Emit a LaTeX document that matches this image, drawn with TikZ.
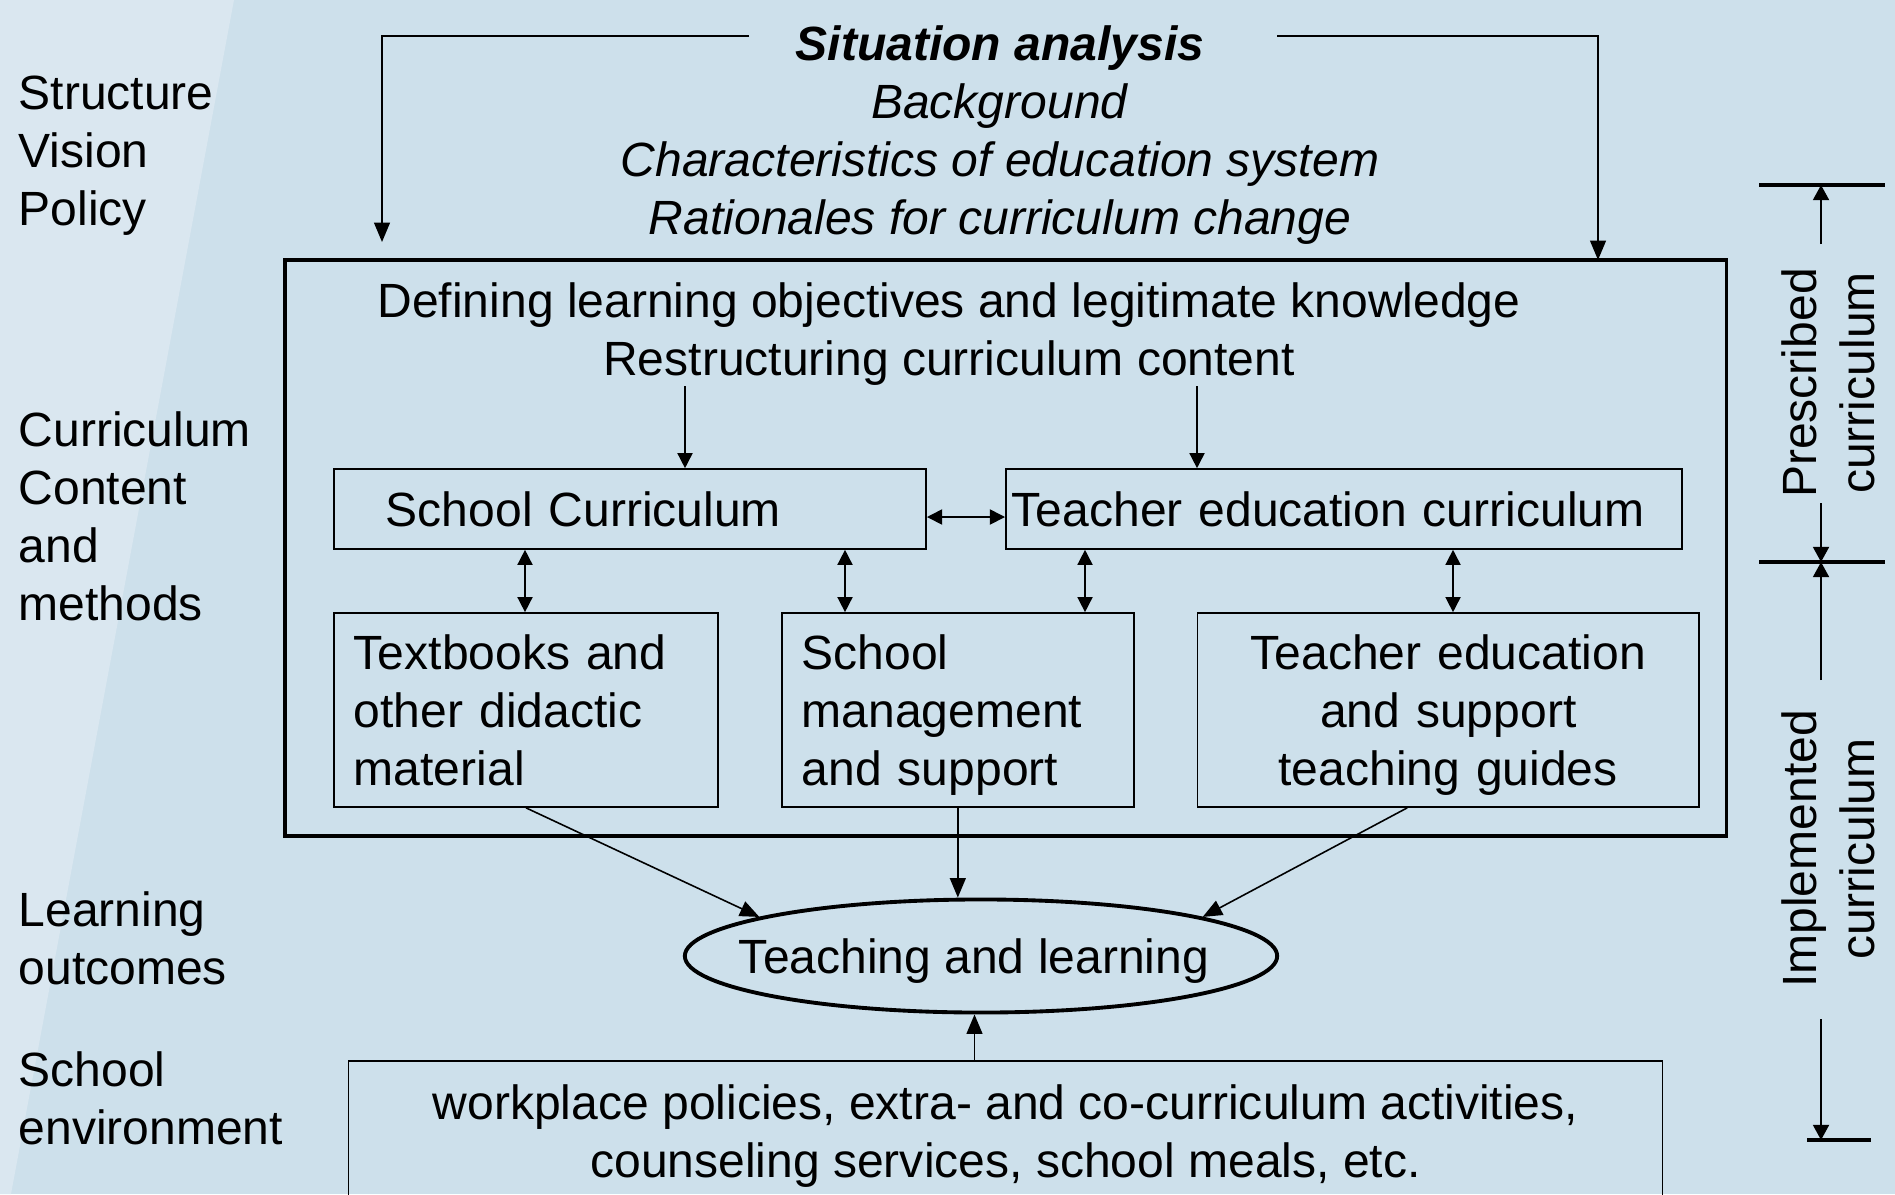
\documentclass[tikz,border=0pt]{standalone}
\usepackage{fontspec}
\setmainfont{Liberation Sans}
\usetikzlibrary{arrows.meta,positioning,shapes.geometric}
\definecolor{slideblue}{RGB}{205,224,235}
\definecolor{slidelight}{RGB}{218,231,240}
\newcommand{\slidefont}{\fontsize{13.66}{16.5}\selectfont}

\begin{document}
\begin{tikzpicture}[
      x=0.01cm, y=-0.01cm,
      every node/.style={font=\slidefont, inner sep=0pt},
      mybox/.style={draw, line width=0.45pt, minimum height=0.8cm},
      tallbox/.style={draw, line width=0.45pt, minimum height=1.94cm,
         execute at begin node={\rule{0pt}{0.45cm}},
         execute at end node={\rule[-0.1cm]{0pt}{0.1cm}}},
      bigbox/.style={draw, line width=1.1pt},
      myarrow/.style={-{Triangle[length=4.3pt,width=4.3pt]}, line width=0.45pt},
      bigarrow/.style={-{Triangle[length=5.5pt,width=4.5pt]}, line width=0.45pt},
      dblarrow/.style={{Triangle[length=4.3pt,width=4.3pt]}-{Triangle[length=4.3pt,width=4.3pt]}, line width=0.45pt},
      bar/.style={line width=1.4pt},
      bararrow/.style={-{Triangle[length=4.3pt,width=4.5pt]}, line width=0.7pt},
      sidelabel/.style={anchor=west, align=left},
      node distance=0.62cm
      ]
      \useasboundingbox (0,0) rectangle (1895,1194);
      \clip (0,0) rectangle (1895,1194);
      % slide background
      \fill[slideblue] (0,0) rectangle (1895,1194);
      \fill[slidelight] (0,0) -- (234,0) -- (11,1194) -- (0,1194) -- cycle;

      % levels on the left
      \node[sidelabel] (svp) at (18,156) {Structure\\Vision\\Policy};
      \node[sidelabel] (ccm) at (18,516) {Curriculum\\Content\\and\\methods};
      \node[sidelabel] (lo) at (18,938) {Learning\\outcomes};
      \node[sidelabel] (se) at (18,1098) {School\\environment};

      \node[align=center] (situation) at (1000,135) {\textbf{\textit{Situation analysis}}\\\textit{Background}\\\textit{Characteristics of education system}\\\textit{Rationales for curriculum change}};

      \node[bigbox, minimum width=14.41cm, minimum height=5.76cm] (content) at (1005.5,548) {};
      \node[align=center] (defining) at (949,334) {Defining learning objectives and legitimate knowledge\\Restructuring curriculum content};

      \node[mybox, text width=4.88cm, inner xsep=0.52cm, align=left] (schoolcur) at (630,509) {School Curriculum};
      \node[mybox, text width=6.64cm, inner xsep=0.06cm, align=left, right=0.78cm of schoolcur] (teachcur) {Teacher education curriculum};

      \node[tallbox, text width=3.44cm, inner xsep=0.2cm, align=left] (textbooks) at (526,710) {Textbooks and\\other didactic\\material};
      \node[tallbox, text width=3.12cm, inner xsep=0.2cm, align=left, right=of textbooks] (schoolman) {School\\management\\and support};
      \node[tallbox, text width=4.81cm, inner xsep=0.1cm, align=center, right=of schoolman] (teachsup) {Teacher education\\and support\\teaching guides};

      \node[ellipse, draw, line width=1.1pt, minimum width=5.92cm, minimum height=1.13cm,
            label={[xshift=-0.07cm, yshift=-0.05cm]center:Teaching and learning}] (teach) at (981,956) {};

      \node[mybox, minimum width=13.13cm, minimum height=1.5cm, align=center] (env) at (1005.5,1136) {workplace policies, extra- and co-curriculum activities,\\counseling services, school meals, etc.};

      % bracket from the situation analysis
      \coordinate (sitleft) at (749,36);
      \coordinate (sitright) at (1277,36);
      \coordinate (leftdrop) at (382,242);
      \coordinate (rightdrop) at (1598,260);
      \draw[bigarrow] (sitleft) -| (leftdrop);
      \draw[bigarrow] (sitright) -| (rightdrop);

      \coordinate (d1) at (685,0);
      \coordinate (d2) at (1197,0);
      \draw[myarrow] (defining.south -| d1) -- (schoolcur.north -| d1);
      \draw[myarrow] (defining.south -| d2) -- (teachcur.north -| d2);

      \draw[dblarrow] ([yshift=-0.08cm]schoolcur.east) -- ([yshift=-0.08cm]teachcur.west);
      \foreach \x/\up/\down in {% x position/upper box/lower box
        525/schoolcur/textbooks,
        845/schoolcur/schoolman,
        1085/teachcur/schoolman,
        1453/teachcur/teachsup}
         \draw[dblarrow] (\up.south -| \x,0) -- (\down.north -| \x,0);

      \draw[bigarrow] (textbooks.south) -- (teach.170);
      \draw[bigarrow] (schoolman.south) -- (schoolman.south |- teach.north);
      \draw[bigarrow] ([xshift=-0.41cm]teachsup.south) -- (teach.10);
      \draw[bigarrow] ([xshift=-0.31cm]env.north) -- ([xshift=-0.31cm]env.north |- teach.south);

      % prescribed / implemented scale on the right
      \node[rotate=90, align=center] (presc) at (1828,383) {Prescribed\\curriculum};
      \node[rotate=90, align=center] (impl) at (1828,849) {Implemented\\curriculum};
      \coordinate (presctop) at (1821,185);
      \coordinate (prescmid) at (1821,562);
      \coordinate (implbot) at (1821,1140);
      \coordinate (p1) at (1821,244);
      \coordinate (p2) at (1821,503);
      \coordinate (p3) at (1821,680);
      \coordinate (p4) at (1821,1019);
      \draw[bar] ([xshift=-0.62cm]presctop) -- ([xshift=0.64cm]presctop);
      \draw[bar] ([xshift=-0.62cm]prescmid) -- ([xshift=0.64cm]prescmid);
      \draw[bar] ([xshift=-0.14cm]implbot) -- ([xshift=0.5cm]implbot);
      \draw[bararrow] (p1) -- (presctop);
      \draw[bararrow] (p2) -- (prescmid);
      \draw[bararrow] (p3) -- (prescmid);
      \draw[bararrow] (p4) -- (implbot);
\end{tikzpicture}
\end{document}
